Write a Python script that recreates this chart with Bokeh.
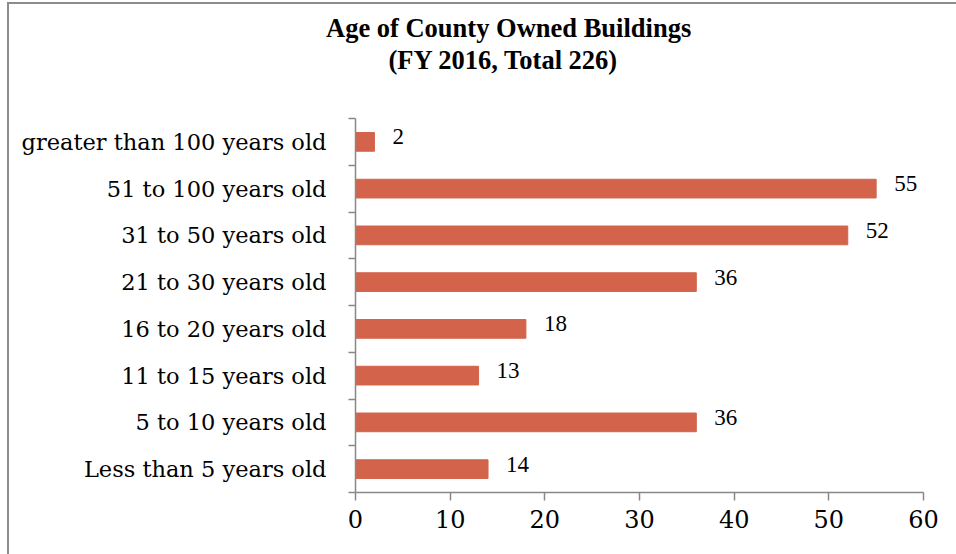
from bokeh.plotting import figure
from bokeh.models import FixedTicker, Title, ColumnDataSource, Range1d
from bokeh.embed import file_html
from bokeh.resources import INLINE
from bokeh.core.properties import value

# ---- data ----
categories = ["Less than 5 years old", "5 to 10 years old", "11 to 15 years old",
              "16 to 20 years old", "21 to 30 years old", "31 to 50 years old",
              "51 to 100 years old", "greater than 100 years old"]
counts = [14, 36, 13, 18, 36, 52, 55, 2]
x_ticks = [0, 10, 20, 30, 40, 50, 60]
title_lines = ["Age of County Owned Buildings", "(FY 2016, Total 226)"]

positions = [i + 0.5 for i in range(len(categories))]
boundaries = list(range(len(categories) + 1))

src = ColumnDataSource(dict(pos=positions, count=counts,
                            label=[str(c) for c in counts]))

AXIS_COLOR = "#888888"
BAR_COLOR = "#D3644B"

p = figure(frame_width=568, frame_height=374,
           min_border_left=346, min_border_right=33,
           min_border_top=114, min_border_bottom=62,
           x_range=Range1d(0, 60), y_range=Range1d(0, len(categories)),
           output_backend="svg", toolbar_location=None)

p.hbar(y="pos", left=0, right="count", height=0.4, source=src,
       fill_color=BAR_COLOR, line_color=BAR_COLOR)

p.text(x="count", y="pos", text="label", source=src,
       x_offset=18, y_offset=-5,
       text_font=value("Liberation Serif"), text_font_size="23px",
       text_baseline="middle", text_align="left", text_color="#000000")

# x axis
xa = p.xaxis[0]
xa.ticker = FixedTicker(ticks=x_ticks)
xa.axis_line_color = AXIS_COLOR
xa.axis_line_width = 1.5
xa.major_tick_line_color = AXIS_COLOR
xa.major_tick_line_width = 1.5
xa.major_tick_out = 8
xa.major_tick_in = 0
xa.minor_tick_line_color = None
xa.major_label_text_font = "DejaVu Serif"
xa.major_label_text_font_size = "24px"
xa.major_label_text_color = "#000000"
xa.major_label_standoff = 9

# y axis: labels at centres, ticks at category boundaries
ya = p.yaxis[0]
ya.ticker = FixedTicker(ticks=positions, minor_ticks=boundaries)
ya.major_label_overrides = {pos: cat for pos, cat in zip(positions, categories)}
ya.axis_line_color = AXIS_COLOR
ya.axis_line_width = 1.5
ya.major_tick_line_color = None
ya.major_tick_out = 0
ya.major_tick_in = 0
ya.minor_tick_line_color = AXIS_COLOR
ya.minor_tick_line_width = 1.5
ya.minor_tick_out = 7
ya.minor_tick_in = 0
ya.major_label_text_font = "DejaVu Serif"
ya.major_label_text_font_size = "22.5px"
ya.major_label_text_color = "#000000"
ya.major_label_standoff = 22

p.xgrid.grid_line_color = None
p.ygrid.grid_line_color = None
p.outline_line_color = None
p.background_fill_color = "white"
p.border_fill_color = "white"

# spacer between the frame and the title block
p.add_layout(Title(text=" ", text_font_size="1px", standoff=41), "above")

# title (two lines; later-added titles sit further from the frame)
offsets = [-29.5, 33]
for line, off in reversed(list(zip(title_lines, offsets))):
    p.add_layout(Title(text=line, align="left", offset=off, standoff=0,
                       text_font="Liberation Serif", text_font_style="bold",
                       text_font_size="26.5px", text_color="#000000"), "above")

p.styles = {"margin-left": "7px", "margin-top": "2px",
            "border-left": "2px solid #8c8c8c", "border-top": "2px solid #8c8c8c"}

open("out.html", "w").write(file_html(p, INLINE))
